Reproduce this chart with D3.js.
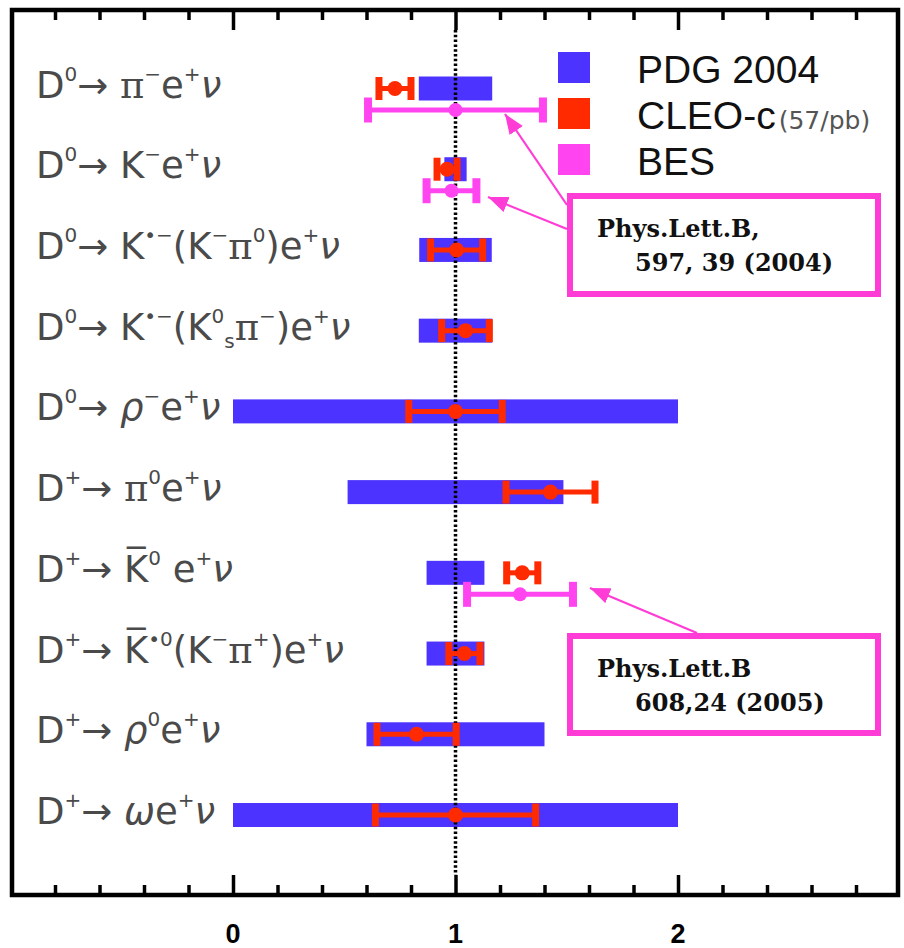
<!DOCTYPE html>
<html>
<head>
<meta charset="utf-8">
<script src="https://cdn.jsdelivr.net/npm/d3@7"></script>
<style>
  body { margin: 0; background: #fff; }
  svg { display: block; }
  .xlab { font-family: 'Liberation Sans', Arial, sans-serif; font-weight: bold; font-size: 27px; }
</style>
</head>
<body>
<svg id="chart" width="904" height="948"></svg>
<script>
// Semileptonic D decay branching fractions, normalised to PDG 2004.
const categories = [
  "D0→π−e+ν", "D0→K−e+ν", "D0→K*−(K−π0)e+ν", "D0→K*−(K0sπ−)e+ν", "D0→ρ−e+ν",
  "D+→π0e+ν", "D+→K̄0e+ν", "D+→K̄*0(K−π+)e+ν", "D+→ρ0e+ν", "D+→ωe+ν"
];
// How each label is typeset: [text, role]  (n normal, p superscript, b subscript, g greek, gi italic greek)
const labelParts = [
  [["D","n"],["0","p"],["→ ","n"],["π","g"],["−","p"],["e","n"],["+","p"],["ν","gi"]],
  [["D","n"],["0","p"],["→ ","n"],["K","n"],["−","p"],["e","n"],["+","p"],["ν","gi"]],
  [["D","n"],["0","p"],["→ ","n"],["K","n"],["•−","p"],["(K","n"],["−","p"],["π","g"],["0","p"],[")e","n"],["+","p"],["ν","gi"]],
  [["D","n"],["0","p"],["→ ","n"],["K","n"],["•−","p"],["(K","n"],["0","p"],["s","b"],["π","g"],["−","p"],[")e","n"],["+","p"],["ν","gi"]],
  [["D","n"],["0","p"],["→ ","n"],["ρ","gi"],["−","p"],["e","n"],["+","p"],["ν","gi"]],
  [["D","n"],["+","p"],["→ ","n"],["π","g"],["0","p"],["e","n"],["+","p"],["ν","gi"]],
  [["D","n"],["+","p"],["→ ","n"],["K\u0305","n"],["0","p"],[" e","n"],["+","p"],["ν","gi"]],
  [["D","n"],["+","p"],["→ ","n"],["K\u0305","n"],["•0","p"],["(K","n"],["−","p"],["π","g"],["+","p"],[")e","n"],["+","p"],["ν","gi"]],
  [["D","n"],["+","p"],["→ ","n"],["ρ","gi"],["0","p"],["e","n"],["+","p"],["ν","gi"]],
  [["D","n"],["+","p"],["→ ","n"],["ω","gi"],["e","n"],["+","p"],["ν","gi"]]
];

// PDG 2004: central value 1, relative uncertainty per mode
const pdgCentral = 1;
const pdgError = [0.165, 0.05, 0.163, 0.165, 1.0, 0.485, 0.13, 0.13, 0.4, 1.0];
// CLEO-c (57/pb)
const cleoValue = [0.728, 0.962, 1.005, 1.045, 1.0, 1.427, 1.30, 1.04, 0.825, 1.0];
const cleoError = [0.072, 0.045, 0.117, 0.107, 0.21, 0.2, 0.07, 0.07, 0.178, 0.36];
// BES
const besCategories = [categories[0], categories[1], categories[6]];
const besValue = [1.0, 0.982, 1.29];
const besError = [0.393, 0.112, 0.238];

const majorTicks = [0, 1, 2];
const minorTicks = [-0.8, -0.6, -0.4, -0.2, 0.2, 0.4, 0.6, 0.8, 1.2, 1.4, 1.6, 1.8, 2.2, 2.4, 2.6, 2.8];
const seriesNames = ["PDG 2004", "CLEO-c", "BES"];
const cleoNote = "(57/pb)";
const references = [["Phys.Lett.B,", "597, 39 (2004)"], ["Phys.Lett.B", "608,24 (2005)"]];

const colors = { pdg: "#4d33ff", cleo: "#ff2a00", bes: "#ff44f0", note: "#ff3cd6" };

const svg = d3.select("#chart");
const frame = { left: 12, top: 10, right: 898, bottom: 895 };

const x = d3.scaleLinear().domain([-1, 3]).range([10.5, 900.5]);
const y = d3.scalePoint().domain(categories).range([88.5, 815]);
const besShift = 21.5;
const barH = 24;

// PDG bands
svg.append("g").selectAll("rect")
  .data(categories)
  .join("rect")
  .attr("x", (d, i) => x(pdgCentral - pdgError[i]))
  .attr("width", (d, i) => x(pdgCentral + pdgError[i]) - x(pdgCentral - pdgError[i]))
  .attr("y", d => y(d) - barH / 2)
  .attr("height", barH)
  .attr("fill", colors.pdg);

// reference line at unity
svg.append("line")
  .attr("x1", x(1)).attr("x2", x(1))
  .attr("y1", frame.top + 20).attr("y2", frame.bottom - 20)
  .attr("stroke", "#000").attr("stroke-width", 3.5)
  .attr("stroke-dasharray", "2.5,2.3");

// error-bar drawer
function errorBars(cls, cats, vals, errs, dy, color, opts) {
  const g = svg.append("g").attr("class", cls);
  const items = cats.map((c, i) => ({ c, v: vals[i], e: errs[i] }));
  const grp = g.selectAll("g").data(items).join("g")
    .attr("transform", d => `translate(0,${y(d.c) + dy})`);
  grp.append("line")
    .attr("x1", d => x(d.v - d.e)).attr("x2", d => x(d.v + d.e))
    .attr("y1", 0).attr("y2", 0)
    .attr("stroke", color).attr("stroke-width", opts.lw);
  grp.selectAll("rect.cap")
    .data(d => [d.v - d.e, d.v + d.e])
    .join("rect").attr("class", "cap")
    .attr("x", v => x(v) - opts.cw / 2).attr("width", opts.cw)
    .attr("y", -opts.ch / 2).attr("height", opts.ch)
    .attr("fill", color);
  grp.append("circle")
    .attr("cx", d => x(d.v)).attr("cy", 0).attr("r", opts.r)
    .attr("fill", color);
}
errorBars("cleo", categories, cleoValue, cleoError, 0, colors.cleo, { lw: 5, cw: 7, ch: 23, r: 7.5 });
errorBars("bes", besCategories, besValue, besError, besShift, colors.bes, { lw: 5, cw: 8, ch: 25, r: 7 });

// frame
svg.append("rect")
  .attr("x", frame.left).attr("y", frame.top)
  .attr("width", frame.right - frame.left).attr("height", frame.bottom - frame.top)
  .attr("fill", "none").attr("stroke", "#000").attr("stroke-width", 4.5);

// ticks on bottom and top (no labels from the axis itself)
function tickAxis(axisFn, yPos, values, len) {
  const a = axisFn(x).tickValues(values).tickSize(-len).tickSizeOuter(0).tickFormat("");
  const g = svg.append("g").attr("transform", `translate(0,${yPos})`).call(a);
  g.select(".domain").remove();
  g.selectAll(".tick line").attr("stroke", "#000").attr("stroke-width", 3.5);
  return g;
}
tickAxis(d3.axisBottom, frame.bottom, minorTicks, 10);
tickAxis(d3.axisBottom, frame.bottom, majorTicks, 20);
tickAxis(d3.axisTop, frame.top, minorTicks, 10);
tickAxis(d3.axisTop, frame.top, majorTicks, 20);

// numeric labels under the bottom axis
svg.append("g").selectAll("text")
  .data(majorTicks)
  .join("text")
  .attr("class", "xlab")
  .attr("x", d => x(d)).attr("y", frame.bottom + 48)
  .attr("text-anchor", "middle").attr("fill", "#000")
  .text(d => d);

// row labels with super/subscripts
const mainSize = 37, smallSize = 20;
labelParts.forEach((parts, i) => {
  const t = svg.append("text")
    .attr("x", 36).attr("y", y(categories[i]) + 9)
    .attr("font-family", "DejaVu Sans, sans-serif")
    .attr("font-size", mainSize).attr("fill", "#4a4a4a");
  let shift = 0;
  parts.forEach(([s, role]) => {
    const target = role === "p" ? -17 : role === "b" ? 8 : 0;
    const sp = t.append("tspan").attr("dy", target - shift).text(s);
    if (role === "p" || role === "b") sp.attr("font-size", smallSize);
    if (role === "gi") sp.attr("font-style", "italic");
    if (role === "g") sp.attr("font-family", "DejaVu Serif, serif");
    shift = target;
  });
});

// legend
const legendColors = [colors.pdg, colors.cleo, colors.bes];
const legendBase = [83, 129, 175];
const lg = svg.append("g");
seriesNames.forEach((name, i) => {
  lg.append("rect").attr("x", 558).attr("y", legendBase[i] - 31)
    .attr("width", 32).attr("height", 31).attr("fill", legendColors[i]);
  const t = lg.append("text").attr("x", 637).attr("y", legendBase[i])
    .attr("font-family", "Liberation Sans, Arial, sans-serif")
    .attr("font-size", 39).attr("fill", "#111").text(name);
  if (i === 1) {
    t.append("tspan").attr("font-family", "DejaVu Sans, sans-serif")
      .attr("font-size", 25).attr("fill", "#555").attr("dx", 3).text(cleoNote);
  }
});

// reference notes with arrows
const defs = svg.append("defs");
defs.append("marker").attr("id", "head")
  .attr("markerUnits", "userSpaceOnUse")
  .attr("markerWidth", 22).attr("markerHeight", 16)
  .attr("refX", 20).attr("refY", 8).attr("orient", "auto")
  .append("path").attr("d", "M0,0 L20,8 L0,16 Z").attr("fill", colors.note);

const notes = [
  { box: [570, 196, 308, 98], text: references[0], arrows: [[567, 205, 505, 114], [567, 229, 488, 197]] },
  { box: [570, 636, 308, 97], text: references[1], arrows: [[697, 633, 590, 588]] }
];
notes.forEach(n => {
  const [bx, by, bw, bh] = n.box;
  svg.append("rect").attr("x", bx).attr("y", by).attr("width", bw).attr("height", bh)
    .attr("fill", "#fff").attr("stroke", colors.note).attr("stroke-width", 6);
  n.arrows.forEach(([x1, y1, x2, y2]) => {
    svg.append("line").attr("x1", x1).attr("y1", y1).attr("x2", x2).attr("y2", y2)
      .attr("stroke", colors.note).attr("stroke-width", 2.2)
      .attr("marker-end", "url(#head)");
  });
  const t = svg.append("text")
    .attr("font-family", "DejaVu Serif, serif").attr("font-weight", "bold")
    .attr("font-size", 24).attr("fill", "#111");
  t.append("tspan").attr("x", bx + 27).attr("y", by + 41).text(n.text[0]);
  t.append("tspan").attr("x", bx + 65).attr("y", by + 75).text(n.text[1]);
});
</script>
</body>
</html>
